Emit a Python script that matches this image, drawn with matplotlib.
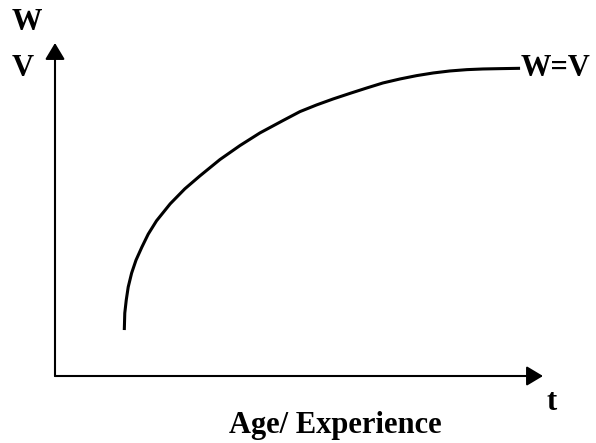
import matplotlib
matplotlib.use("Agg")
import matplotlib.pyplot as plt

plt.rcParams["font.family"] = ["Liberation Serif", "DejaVu Serif"]

# curve (t = age/experience, w = wage = value)
t_vals = [1.42, 1.43, 1.46, 1.50, 1.57, 1.66, 1.78, 1.91, 2.08, 2.36,
          2.66, 2.97, 3.38, 3.79, 4.20, 4.67, 5.02, 5.36, 5.70, 6.05,
          6.39, 6.72, 7.07, 7.41, 7.75, 8.09, 8.44, 8.77, 9.12, 9.53]
w_vals = [1.38, 1.89, 2.28, 2.67, 3.09, 3.48, 3.87, 4.26, 4.66, 5.17,
          5.62, 6.01, 6.50, 6.92, 7.30, 7.67, 7.94, 8.14, 8.32, 8.49,
          8.65, 8.80, 8.92, 9.02, 9.10, 9.16, 9.20, 9.22, 9.23, 9.24]

W, H = 596, 443
fig = plt.figure(figsize=(W / 100, H / 100), dpi=100)
ax = fig.add_axes([55 / W, 67 / H, 488 / W, 333 / H])
ax.set_xlim(0, 10)
ax.set_ylim(0, 10)
ax.axis("off")

# axes with arrow heads
arrow = dict(arrowstyle="-|>,head_length=0.5,head_width=0.3", mutation_scale=20,
             lw=1.5, color="black", shrinkA=0, shrinkB=0)
ax.annotate("", xy=(10, 0), xytext=(0, 0), arrowprops=arrow, annotation_clip=False)
ax.annotate("", xy=(0, 10), xytext=(0, 0), arrowprops=arrow, annotation_clip=False)

ax.plot(t_vals, w_vals, color="black", lw=2.2, solid_capstyle="butt",
        solid_joinstyle="round", clip_on=False)

fs = 22
def ftext(x, y, s, **kw):
    fig.text(x / W, 1 - y / H, s, fontsize=fs, fontweight="bold", **kw)

ftext(12, 22, "W", ha="left", va="center")
ftext(12, 68, "V", ha="left", va="center")
ftext(521, 68, "W=V", ha="left", va="center")
ftext(552, 403, "t", ha="center", va="center")
ftext(335, 426, "Age/ Experience", ha="center", va="center")

fig.savefig("out.png", dpi=100)
